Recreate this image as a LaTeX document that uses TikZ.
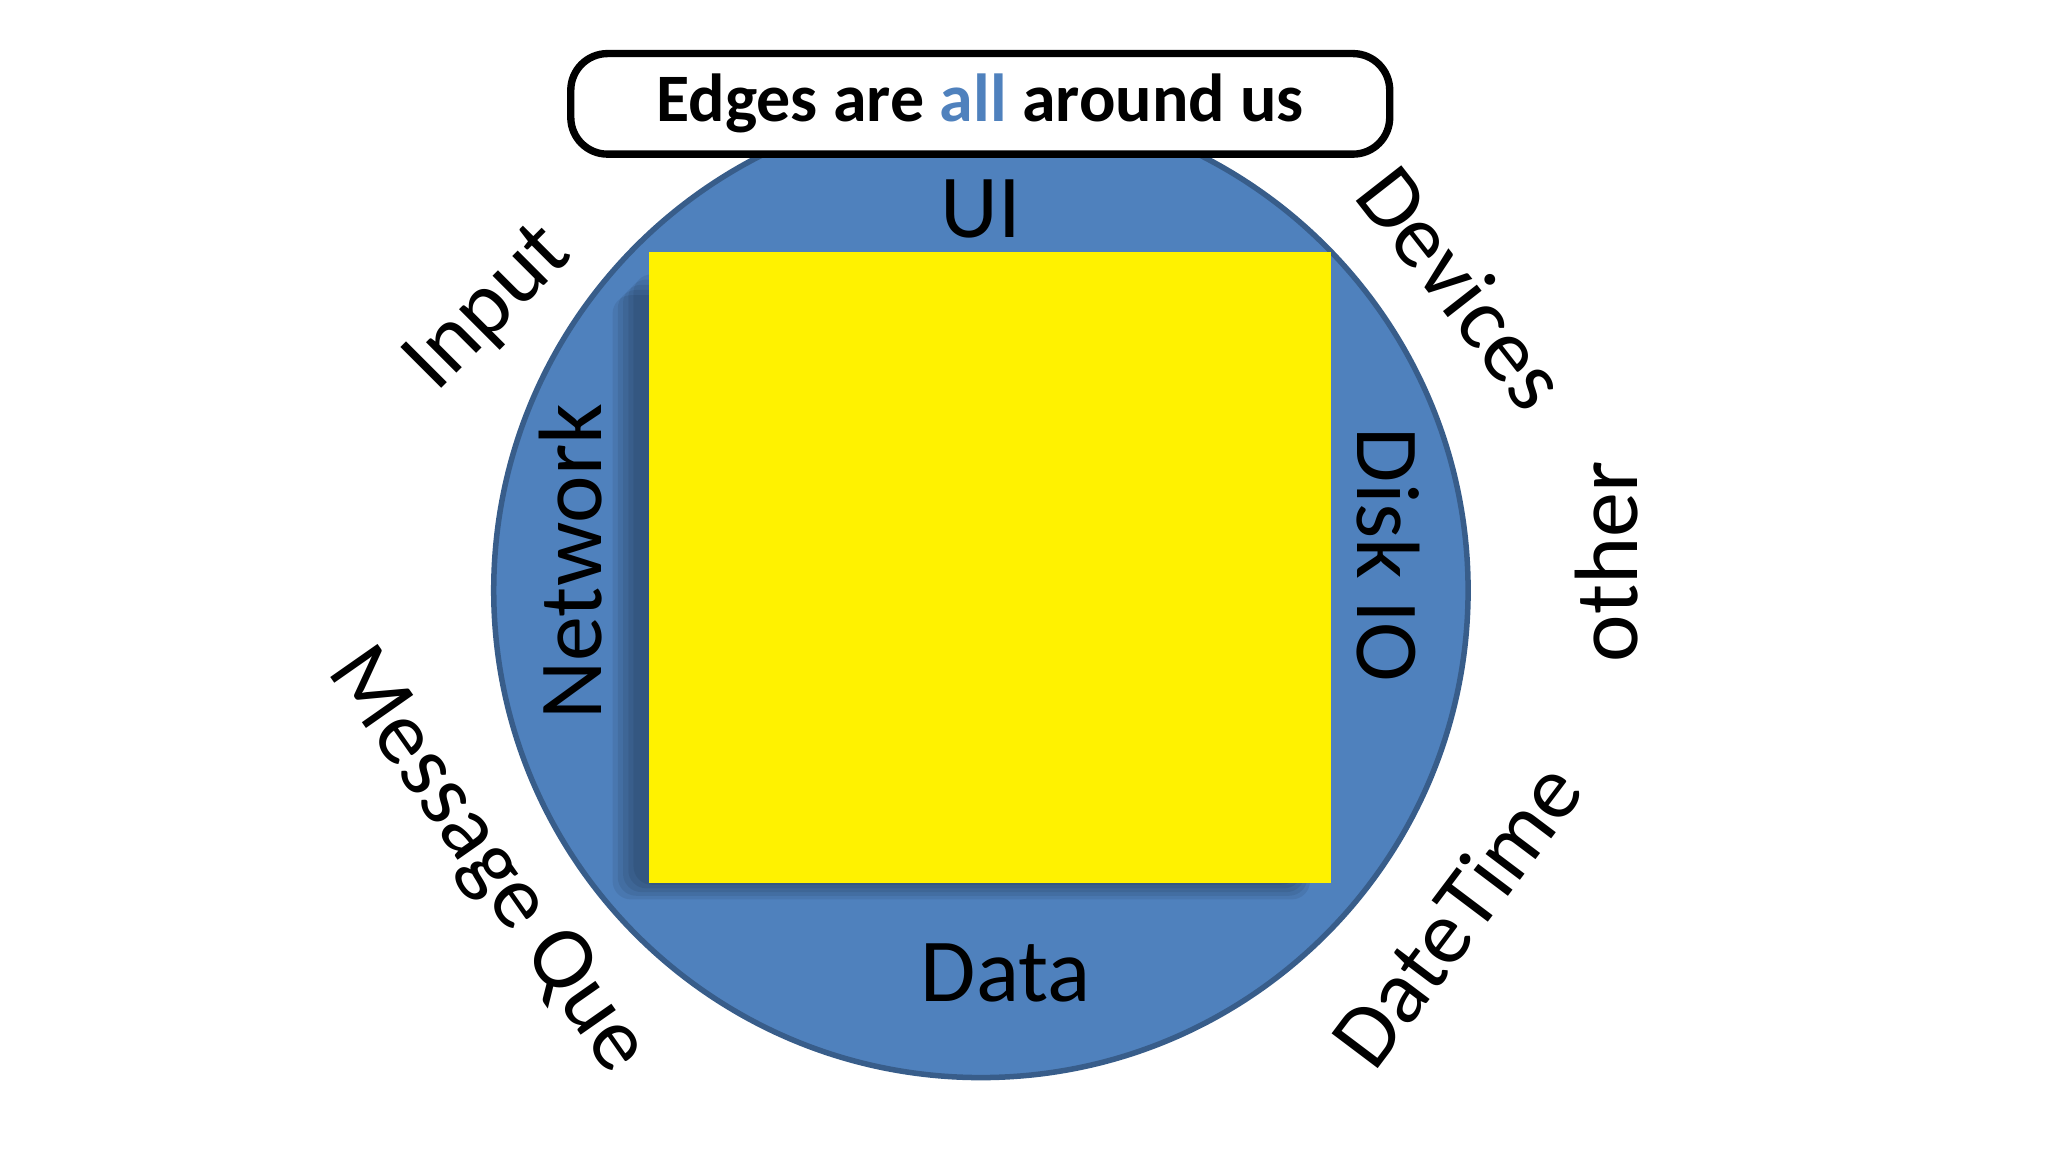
\documentclass[tikz,border=0pt]{standalone}
\usepackage{fontspec}
\setmainfont{Carlito}
\definecolor{cblue}{HTML}{4F81BD}
\definecolor{cedge}{HTML}{385D8A}
\begin{document}
\begin{tikzpicture}[x=1cm,y=-1cm,
  lab/.style={font=\fontsize{19.6}{22}\selectfont, inner sep=0pt}]
\useasboundingbox (0,0) rectangle (15.68,8.82);
\node[circle, draw=cedge, line width=1.2pt, fill=cblue, minimum size=7.46cm, inner sep=0pt] (c) at (7.51,4.52) {};
\foreach \d in {0.02,0.06,0.10,0.14,0.18}{
  \fill[black, opacity=0.07, rounded corners=4pt] (4.97-\d-0.1,1.93+0.15+\d) rectangle (10.19-0.25+\d*0.5,6.76+\d*0.7);
}
\node[fill=yellow, minimum width=5.22cm, minimum height=4.83cm, inner sep=0pt] (sq) at (7.58,4.345) {};
\node[draw, line width=1.6pt, rounded corners=8pt, fill=white, minimum width=6.27cm, minimum height=0.77cm, font=\bfseries\fontsize{14.8}{17}\selectfont] (title) at (7.505,0.795) {Edges are \textcolor{cblue}{all} around us};
\node[lab] (ui) at (7.51,1.6) {UI};
\node[lab, rotate=90] (net) at (4.37,4.3) {Network};
\node[lab, rotate=-90] (disk) at (10.63,4.25) {Disk IO};
\node[lab] (data) at (7.7,7.45) {Data};
\node[lab, rotate=45] (in) at (3.75,2.37) {Input};
\node[lab, rotate=-52] (dev) at (11.2,2.2) {Devices};
\node[lab, rotate=90] (oth) at (12.3,4.3) {other};
\node[lab, rotate=53] (dt) at (11.15,7.0) {DateTime};
\node[lab, rotate=-55] (mq) at (3.72,6.6) {Message Que};
\end{tikzpicture}
\end{document}
